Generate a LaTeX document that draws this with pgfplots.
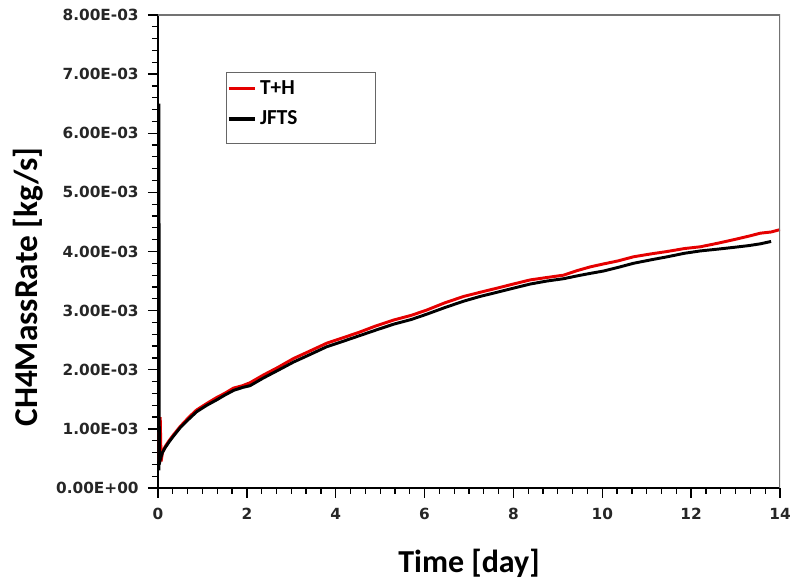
\documentclass[border=0pt]{standalone}
\usepackage{fontspec}
\setmainfont{Carlito}
\newfontfamily\tickfont{DejaVu Sans}
\usepackage{pgfplots}
\pgfplotsset{compat=1.18}

\pgfplotstableread{
x y
0.00 0.45
0.05 1.20
0.07 0.45
0.10 0.60
0.16 0.70
0.25 0.80
0.35 0.90
0.50 1.04
0.70 1.20
0.87 1.32
1.10 1.43
1.32 1.53
1.50 1.60
1.70 1.69
1.90 1.73
2.07 1.78
2.37 1.91
2.70 2.04
3.05 2.19
3.40 2.31
3.80 2.45
4.20 2.55
4.55 2.64
4.90 2.74
5.30 2.84
5.70 2.92
6.05 3.01
6.45 3.13
6.88 3.24
7.25 3.31
7.63 3.38
8.00 3.45
8.38 3.52
8.75 3.56
9.13 3.60
9.45 3.68
9.73 3.74
10.03 3.79
10.35 3.84
10.70 3.91
11.10 3.96
11.46 4.00
11.85 4.05
12.21 4.08
12.60 4.14
12.96 4.20
13.30 4.26
13.56 4.31
13.80 4.33
14.00 4.37
}\th

\pgfplotstableread{
x y
0.02 0.30
0.02 6.50
0.03 0.40
0.05 0.48
0.10 0.60
0.16 0.68
0.25 0.78
0.35 0.88
0.50 1.02
0.70 1.17
0.87 1.29
1.10 1.40
1.32 1.49
1.50 1.57
1.70 1.65
1.90 1.70
2.07 1.73
2.37 1.86
2.70 1.99
3.05 2.13
3.40 2.25
3.80 2.39
4.20 2.49
4.55 2.58
4.90 2.67
5.30 2.77
5.70 2.85
6.05 2.94
6.45 3.05
6.88 3.16
7.25 3.24
7.63 3.31
8.00 3.38
8.38 3.45
8.75 3.50
9.13 3.54
9.45 3.59
9.73 3.63
10.03 3.67
10.35 3.73
10.70 3.80
11.10 3.86
11.46 3.91
11.85 3.97
12.21 4.01
12.60 4.04
12.96 4.07
13.30 4.10
13.56 4.13
13.80 4.17
}\jfts

\begin{document}
\begin{tikzpicture}
\begin{axis}[
  scale only axis,
  width=466.5pt,height=354.75pt,
  xmin=0,xmax=14,ymin=0,ymax=8,
  axis x line*=bottom,axis y line*=left,
  axis line style={-,black,line width=1.5pt},
  xtick={0,2,...,14},
  ytick={0,1,...,8},
  yticklabels={0.00E+00,1.00E-03,2.00E-03,3.00E-03,4.00E-03,5.00E-03,6.00E-03,7.00E-03,8.00E-03},
  minor x tick num=5,minor y tick num=4,
  tick align=outside,
  major tick length=7.5pt,minor tick length=4.5pt,
  major tick style={black,line width=1.1pt},
  minor tick style={black,line width=0.9pt},
  /pgf/number format/assume math mode=true,
  ticklabel style={font=\tickfont\fontsize{11.5}{14}\selectfont\bfseries,text=black!85},
  xticklabel style={yshift=-4pt},
  yticklabel style={xshift=-3.5pt},
  xlabel={Time [day]},
  ylabel={CH4MassRate [kg/s]},
  label style={font=\fontsize{24}{28}\selectfont\bfseries},
  xlabel style={at={(rel axis cs:0.5,-0.1586)},anchor=center},
  ylabel style={font=\fontsize{25}{29}\selectfont\bfseries,at={(rel axis cs:-0.209,0.425)},anchor=center,rotate=0},
  legend style={at={(rel axis cs:0.1104,0.878)},anchor=north west,
    draw=none,fill=none,inner sep=0pt,row sep=0pt,
    nodes={inner ysep=0pt,inner xsep=2.5pt,minimum height=23pt,anchor=west},
    font=\fontsize{16}{18}\selectfont\bfseries},
  legend image code/.code={\draw[#1,line width=2.4pt] (-2.5pt,0pt) -- (17.5pt,0pt);},
]
\addplot[red!90!black,line width=2.2pt] table[x=x,y=y] {\th};
\addplot[black,line width=2.2pt] table[x=x,y=y] {\jfts};
\legend{T+H,JFTS}
\draw[black!55,line width=0.8pt] (rel axis cs:0,1) -- (rel axis cs:1,1) -- (rel axis cs:1,0);
\draw[black!60,line width=0.8pt] (rel axis cs:0.1104,0.878) rectangle (rel axis cs:0.350,0.729);
\coordinate (ll) at (rel axis cs:0,0);
\end{axis}
\pgfresetboundingbox
\path[use as bounding box] ([shift={(-118.5pt,-69.75pt)}]ll) rectangle ([shift={(475.5pt,366pt)}]ll);
\end{tikzpicture}
\end{document}
